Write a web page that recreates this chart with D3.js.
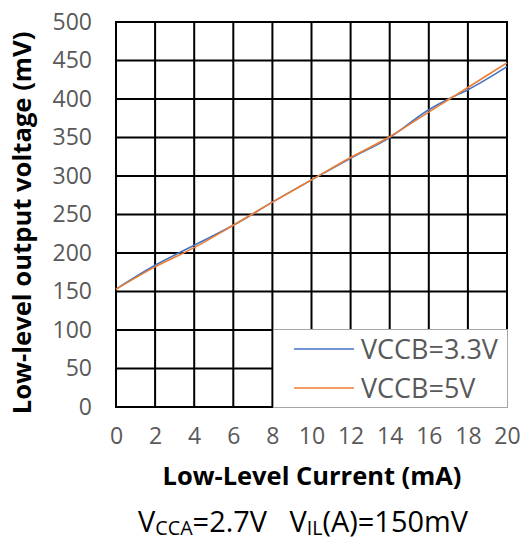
<!DOCTYPE html>
<html>
<head>
<meta charset="utf-8">
<script src="https://cdn.jsdelivr.net/npm/d3@7"></script>
<style>
  html, body { margin: 0; padding: 0; background: #fff; }
  svg { display: block; }
  text { font-family: "Open Sans", "Noto Sans", sans-serif; }
</style>
</head>
<body>
<svg id="chart" width="523" height="543"></svg>
<script>
const currentMA = [0, 2, 4, 6, 8, 10, 12, 14, 16, 17, 18, 20];
const vccb33 = [153, 184, 210, 236, 266, 295, 323, 350, 386, 400, 412, 442];
const vccb5 = [153, 182, 207, 236, 266, 295, 324, 351, 383, 399, 415, 447];
const seriesNames = ["VCCB=3.3V", "VCCB=5V"];
const seriesColors = ["#4472C4", "#ED7D31"];
const xTicks = [0, 2, 4, 6, 8, 10, 12, 14, 16, 18, 20];
const yTicks = [0, 50, 100, 150, 200, 250, 300, 350, 400, 450, 500];
const xTitle = "Low-Level Current (mA)";
const yTitle = "Low-level output voltage (mV)";

const svg = d3.select("#chart");
const x = d3.scaleLinear().domain([0, 20]).range([116, 507]);
const y = d3.scaleLinear().domain([0, 500]).range([407, 22]);

function fit(sel, target) {
  const w = sel.node().getComputedTextLength();
  const fs = parseFloat(sel.style("font-size"));
  if (w > 0) sel.style("font-size", (fs * target / w) + "px");
  return fs * target / w;
}

// Grid
const grid = svg.append("g");
grid.selectAll("line.v").data(xTicks).join("line")
  .attr("x1", d => x(d)).attr("x2", d => x(d))
  .attr("y1", y(0)).attr("y2", y(500))
  .attr("stroke", "#000").attr("stroke-width", 2);
grid.selectAll("line.h").data(yTicks).join("line")
  .attr("x1", x(0) - 1).attr("x2", x(20) + 1)
  .attr("y1", d => y(d)).attr("y2", d => y(d))
  .attr("stroke", "#000").attr("stroke-width", 2);

// Axes labels via d3 axes
const yAxis = svg.append("g").attr("transform", `translate(${x(0)},0)`)
  .call(d3.axisLeft(y).tickValues(yTicks).tickSize(0).tickPadding(24));
yAxis.select(".domain").remove();
yAxis.selectAll("text").attr("fill", "#595959").style("font-size", "23px")
  .style("font-family", '"Open Sans", "Noto Sans", sans-serif');

const xAxis = svg.append("g").attr("transform", `translate(0,${y(0)})`)
  .call(d3.axisBottom(x).tickValues(xTicks).tickSize(0).tickPadding(21));
xAxis.select(".domain").remove();
xAxis.selectAll("text").attr("fill", "#595959").style("font-size", "23px")
  .style("font-family", '"Open Sans", "Noto Sans", sans-serif');

// Lines
const line = d3.line().x((d, i) => x(currentMA[i])).y(d => y(d)).curve(d3.curveMonotoneX);
[vccb33, vccb5].forEach((s, k) => {
  svg.append("path").datum(s).attr("d", line)
    .attr("fill", "none").attr("stroke", seriesColors[k]).attr("stroke-width", 1.6);
});

// Legend
const lg = svg.append("g");
lg.append("rect").attr("x", 273.5).attr("y", 329.5).attr("width", 234).attr("height", 78)
  .attr("fill", "#fff").attr("stroke", "#a6a6a6").attr("stroke-width", 1);
const legTexts = [];
seriesNames.forEach((n, k) => {
  const yy = 349 + k * 39;
  lg.append("line").attr("x1", 294).attr("x2", 354).attr("y1", yy).attr("y2", yy)
    .attr("stroke", seriesColors[k]).attr("stroke-width", 1.6);
  legTexts.push(lg.append("text").attr("x", 361).attr("y", yy).attr("dy", "0.36em")
    .attr("fill", "#595959").style("font-size", "23px").text(n));
});
const lfs = fit(legTexts[0], 137);
legTexts[1].style("font-size", lfs + "px");

// Titles
const xt = svg.append("text").attr("x", 312).attr("y", 485).attr("text-anchor", "middle")
  .style("font-size", "21px").style("font-weight", "bold").attr("fill", "#000").text(xTitle);
fit(xt, 299);
const yt = svg.append("text").attr("transform", "translate(31,223) rotate(-90)").attr("text-anchor", "middle")
  .style("font-size", "21px").style("font-weight", "bold").attr("fill", "#000").text(yTitle);
fit(yt, 383);

// Condition text
const cond = svg.append("text").attr("x", 303).attr("y", 532).attr("text-anchor", "middle")
  .attr("fill", "#000").style("font-size", "22px");
cond.append("tspan").text("V");
cond.append("tspan").attr("dy", 3).style("font-size", "15px").text("CCA");
cond.append("tspan").attr("dy", -3).text("=2.7V\u00a0\u00a0\u00a0V");
cond.append("tspan").attr("dy", 3).style("font-size", "15px").text("IL");
cond.append("tspan").attr("dy", -3).text("(A)=150mV");
{
  const w = cond.node().getComputedTextLength();
  const k = 330 / w;
  cond.style("font-size", (22 * k) + "px");
  cond.selectAll("tspan").each(function() {
    const t = d3.select(this);
    const fs = parseFloat(this.style.fontSize);
    if (fs) t.style("font-size", (fs * k) + "px");
  });
}
</script>
</body>
</html>
